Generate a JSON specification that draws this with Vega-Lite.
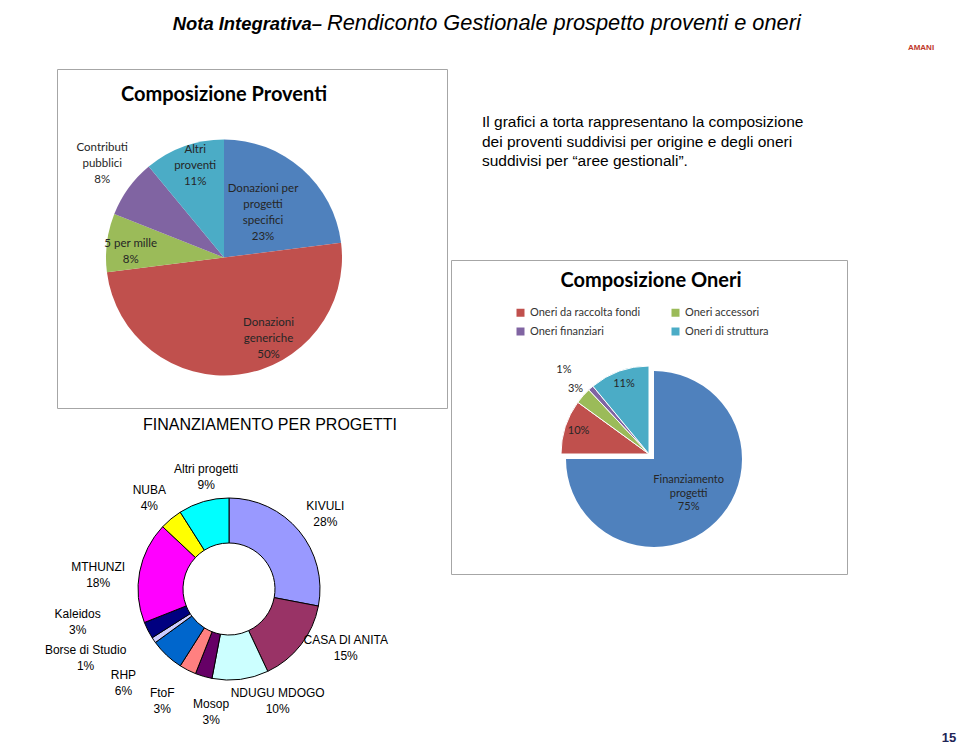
{
  "$schema": "https://vega.github.io/schema/vega-lite/v6.json",
  "padding": 0,
  "background": "white",
  "spacing": 0,
  "config": {"view": {"stroke": null}, "text": {"font": "Liberation Sans"}},
  "resolve": {"scale": {"color": "independent", "theta": "independent", "opacity": "independent"}, "legend": {"color": "independent"}},
  "vconcat": [
    {
      "width": 960,
      "height": 68,
      "view": {"fill": "#ffffff"},
      "data": {"values": [{}]},
      "layer": [
        {"mark": {"type": "text", "text": "Nota Integrativa–", "font": "Liberation Sans", "fontStyle": "italic", "fontWeight": "bold", "fontSize": 18.4, "align": "right", "baseline": "alphabetic", "dx": -158, "dy": -4, "color": "#000"}, "encoding": {}},
        {"mark": {"type": "text", "text": "Rendiconto Gestionale  prospetto  proventi e oneri", "font": "Liberation Sans", "fontStyle": "italic", "fontSize": 21.8, "align": "left", "baseline": "alphabetic", "dx": -153, "dy": -4, "color": "#000"}, "encoding": {}},
        {"mark": {"type": "text", "text": "AMANI", "font": "Liberation Sans", "fontWeight": "bold", "fontSize": 8, "align": "center", "baseline": "middle", "dx": 441, "dy": 14, "color": "#C0392B"}, "encoding": {}}
      ]
    },
    {
      "hconcat": [
        {"width": 42, "height": 24, "view": {"fill": "#ffffff"}, "data": {"values": [{}]}, "mark": {"type": "text", "text": ""}, "encoding": {}},
        {
          "vconcat": [
            {
              "width": 390,
              "height": 339,
              "view": {"stroke": "#a6a6a6", "strokeWidth": 1},
              "data": {"values": [
                {"cat": "Donazioni per progetti specifici", "lbl": "Donazioni per\nprogetti\nspecifici\n23%", "v": 23, "k": 1},
                {"cat": "Donazioni generiche", "lbl": "Donazioni\ngeneriche\n50%", "v": 50, "k": 2},
                {"cat": "5 per mille", "lbl": "5 per mille\n8%", "v": 8, "k": 3},
                {"cat": "Contributi pubblici", "lbl": "Contributi\npubblici\n8%", "v": 8, "k": 4},
                {"cat": "Altri proventi", "lbl": "Altri\nproventi\n11%", "v": 11, "k": 5}
              ]},
              "layer": [
                {
                  "mark": {"type": "arc", "outerRadius": 118, "xOffset": -28, "yOffset": 19},
                  "encoding": {
                    "theta": {"field": "v", "type": "quantitative", "stack": true},
                    "order": {"field": "k", "type": "quantitative"},
                    "color": {"field": "cat", "type": "nominal", "legend": null, "scale": {"domain": ["Donazioni per progetti specifici", "Donazioni generiche", "5 per mille", "Contributi pubblici", "Altri proventi"], "range": ["#4F81BD", "#C0504D", "#9BBB59", "#8064A2", "#4BACC6"]}}
                  }
                },
                {
                  "mark": {"type": "text", "radius": 59, "xOffset": -28, "yOffset": 19, "dy": -24, "font": "Lato", "fontSize": 11.5, "lineBreak": "\n", "lineHeight": 16, "align": "center", "baseline": "middle", "color": "#262626"},
                  "encoding": {
                    "theta": {"field": "v", "type": "quantitative", "stack": true},
                    "order": {"field": "k", "type": "quantitative"},
                    "text": {"condition": {"test": "datum.cat === 'Donazioni per progetti specifici'", "field": "lbl"}, "value": ""}
                  }
                },
                {
                  "mark": {"type": "text", "radius": 94, "xOffset": -28, "yOffset": 19, "dy": -2, "font": "Lato", "fontSize": 11.5, "lineBreak": "\n", "lineHeight": 16, "align": "center", "baseline": "middle", "color": "#262626"},
                  "encoding": {
                    "theta": {"field": "v", "type": "quantitative", "stack": true},
                    "order": {"field": "k", "type": "quantitative"},
                    "text": {"condition": {"test": "datum.cat === '5 per mille'", "field": "lbl"}, "value": ""}
                  }
                },
                {
                  "mark": {"type": "text", "radius": 94, "xOffset": -28, "yOffset": 19, "dx": 3, "dy": -19, "font": "Lato", "fontSize": 11.5, "lineBreak": "\n", "lineHeight": 16, "align": "center", "baseline": "middle", "color": "#262626"},
                  "encoding": {
                    "theta": {"field": "v", "type": "quantitative", "stack": true},
                    "order": {"field": "k", "type": "quantitative"},
                    "text": {"condition": {"test": "datum.cat === 'Altri proventi'", "field": "lbl"}, "value": ""}
                  }
                },
                {
                  "mark": {"type": "text", "radius": 92, "xOffset": -28, "yOffset": 19, "dx": 33, "dy": -26, "font": "Lato", "fontSize": 11.5, "lineBreak": "\n", "lineHeight": 16, "align": "center", "baseline": "middle", "color": "#262626"},
                  "encoding": {
                    "theta": {"field": "v", "type": "quantitative", "stack": true},
                    "order": {"field": "k", "type": "quantitative"},
                    "text": {"condition": {"test": "datum.cat === 'Donazioni generiche'", "field": "lbl"}, "value": ""}
                  }
                },
                {
                  "mark": {"type": "text", "radius": 158, "xOffset": -28, "yOffset": 19, "dx": 6, "dy": -17, "font": "Lato", "fontSize": 11.5, "lineBreak": "\n", "lineHeight": 16, "align": "center", "baseline": "middle", "color": "#262626"},
                  "encoding": {
                    "theta": {"field": "v", "type": "quantitative", "stack": true},
                    "order": {"field": "k", "type": "quantitative"},
                    "text": {"condition": {"test": "datum.cat === 'Contributi pubblici'", "field": "lbl"}, "value": ""}
                  }
                },
                {
                  "data": {"values": [{}]},
                  "mark": {"type": "text", "text": "Composizione Proventi", "font": "Lato", "fontWeight": "bold", "fontSize": 20, "align": "center", "baseline": "middle", "dx": -28, "dy": -144, "color": "#000"},
                  "encoding": {}
                }
              ]
            },
            {
              "width": 344,
              "height": 296,
              "data": {"values": [
                {"p": "KIVULI", "lbl": "KIVULI\n28%", "v": 28, "k": 1},
                {"p": "CASA DI ANITA", "lbl": "CASA DI ANITA\n15%", "v": 15, "k": 2},
                {"p": "NDUGU MDOGO", "lbl": "NDUGU MDOGO\n10%", "v": 10, "k": 3},
                {"p": "Mosop", "lbl": "Mosop\n3%", "v": 3, "k": 4},
                {"p": "FtoF", "lbl": "FtoF\n3%", "v": 3, "k": 5},
                {"p": "RHP", "lbl": "RHP\n6%", "v": 6, "k": 6},
                {"p": "Borse di Studio", "lbl": "Borse di Studio\n1%", "v": 1, "k": 7},
                {"p": "Kaleidos", "lbl": "Kaleidos\n3%", "v": 3, "k": 8},
                {"p": "MTHUNZI", "lbl": "MTHUNZI\n18%", "v": 18, "k": 9},
                {"p": "NUBA", "lbl": "NUBA\n4%", "v": 4, "k": 10},
                {"p": "Altri progetti", "lbl": "Altri progetti\n9%", "v": 9, "k": 11}
              ]},
              "layer": [
                {
                  "mark": {"type": "arc", "innerRadius": 46, "outerRadius": 91, "stroke": "#000", "strokeWidth": 1},
                  "encoding": {
                    "theta": {"field": "v", "type": "quantitative", "stack": true},
                    "order": {"field": "k", "type": "quantitative"},
                    "color": {"field": "p", "type": "nominal", "legend": null, "scale": {"domain": ["KIVULI", "CASA DI ANITA", "NDUGU MDOGO", "Mosop", "FtoF", "RHP", "Borse di Studio", "Kaleidos", "MTHUNZI", "NUBA", "Altri progetti"], "range": ["#9999FF", "#993366", "#CCFFFF", "#660066", "#FF8080", "#0066CC", "#CCCCFF", "#000080", "#FF00FF", "#FFFF00", "#00FFFF"]}}
                  }
                },
                {
                  "mark": {"type": "text", "radius": 125, "dy": -3, "font": "Liberation Sans", "fontSize": 12, "lineBreak": "\n", "lineHeight": 16, "align": "center", "baseline": "middle", "color": "#000"},
                  "encoding": {
                    "theta": {"field": "v", "type": "quantitative", "stack": true},
                    "order": {"field": "k", "type": "quantitative"},
                    "text": {"condition": {"test": "datum.p === 'NUBA' || datum.p === 'KIVULI'", "field": "lbl"}, "value": ""}
                  }
                },
                {
                  "mark": {"type": "text", "radius": 125, "dx": -8, "dy": 1, "font": "Liberation Sans", "fontSize": 12, "lineBreak": "\n", "lineHeight": 16, "align": "center", "baseline": "middle", "color": "#000"},
                  "encoding": {
                    "theta": {"field": "v", "type": "quantitative", "stack": true},
                    "order": {"field": "k", "type": "quantitative"},
                    "text": {"condition": {"test": "datum.p === 'MTHUNZI'", "field": "lbl"}, "value": ""}
                  }
                },
                {
                  "mark": {"type": "text", "radius": 125, "dx": -10, "dy": -7, "font": "Liberation Sans", "fontSize": 12, "lineBreak": "\n", "lineHeight": 16, "align": "center", "baseline": "middle", "color": "#000"},
                  "encoding": {
                    "theta": {"field": "v", "type": "quantitative", "stack": true},
                    "order": {"field": "k", "type": "quantitative"},
                    "text": {"condition": {"test": "datum.p === 'FtoF'", "field": "lbl"}, "value": ""}
                  }
                },
                {
                  "mark": {"type": "text", "radius": 125, "dx": 12, "dy": 0, "font": "Liberation Sans", "fontSize": 12, "lineBreak": "\n", "lineHeight": 16, "align": "center", "baseline": "middle", "color": "#000"},
                  "encoding": {
                    "theta": {"field": "v", "type": "quantitative", "stack": true},
                    "order": {"field": "k", "type": "quantitative"},
                    "text": {"condition": {"test": "datum.p === 'Altri progetti'", "field": "lbl"}, "value": ""}
                  }
                },
                {
                  "mark": {"type": "text", "radius": 125, "dx": 18, "dy": -26, "font": "Liberation Sans", "fontSize": 12, "lineBreak": "\n", "lineHeight": 16, "align": "center", "baseline": "middle", "color": "#000"},
                  "encoding": {
                    "theta": {"field": "v", "type": "quantitative", "stack": true},
                    "order": {"field": "k", "type": "quantitative"},
                    "text": {"condition": {"test": "datum.p === 'CASA DI ANITA'", "field": "lbl"}, "value": ""}
                  }
                },
                {
                  "mark": {"type": "text", "radius": 125, "dx": 33, "dy": -20, "font": "Liberation Sans", "fontSize": 12, "lineBreak": "\n", "lineHeight": 16, "align": "center", "baseline": "middle", "color": "#000"},
                  "encoding": {
                    "theta": {"field": "v", "type": "quantitative", "stack": true},
                    "order": {"field": "k", "type": "quantitative"},
                    "text": {"condition": {"test": "datum.p === 'NDUGU MDOGO'", "field": "lbl"}, "value": ""}
                  }
                },
                {
                  "mark": {"type": "text", "radius": 125, "dx": 17, "dy": -5, "font": "Liberation Sans", "fontSize": 12, "lineBreak": "\n", "lineHeight": 16, "align": "center", "baseline": "middle", "color": "#000"},
                  "encoding": {
                    "theta": {"field": "v", "type": "quantitative", "stack": true},
                    "order": {"field": "k", "type": "quantitative"},
                    "text": {"condition": {"test": "datum.p === 'Mosop'", "field": "lbl"}, "value": ""}
                  }
                },
                {
                  "mark": {"type": "text", "radius": 125, "dx": -20, "dy": -5, "font": "Liberation Sans", "fontSize": 12, "lineBreak": "\n", "lineHeight": 16, "align": "center", "baseline": "middle", "color": "#000"},
                  "encoding": {
                    "theta": {"field": "v", "type": "quantitative", "stack": true},
                    "order": {"field": "k", "type": "quantitative"},
                    "text": {"condition": {"test": "datum.p === 'RHP'", "field": "lbl"}, "value": ""}
                  }
                },
                {
                  "mark": {"type": "text", "radius": 125, "dx": -40, "dy": -9, "font": "Liberation Sans", "fontSize": 12, "lineBreak": "\n", "lineHeight": 16, "align": "center", "baseline": "middle", "color": "#000"},
                  "encoding": {
                    "theta": {"field": "v", "type": "quantitative", "stack": true},
                    "order": {"field": "k", "type": "quantitative"},
                    "text": {"condition": {"test": "datum.p === 'Borse di Studio'", "field": "lbl"}, "value": ""}
                  }
                },
                {
                  "mark": {"type": "text", "radius": 125, "dx": -40, "dy": -32, "font": "Liberation Sans", "fontSize": 12, "lineBreak": "\n", "lineHeight": 16, "align": "center", "baseline": "middle", "color": "#000"},
                  "encoding": {
                    "theta": {"field": "v", "type": "quantitative", "stack": true},
                    "order": {"field": "k", "type": "quantitative"},
                    "text": {"condition": {"test": "datum.p === 'Kaleidos'", "field": "lbl"}, "value": ""}
                  }
                },
                {
                  "data": {"values": [{}]},
                  "mark": {"type": "text", "text": "FINANZIAMENTO PER PROGETTI", "font": "Liberation Sans", "fontSize": 16, "align": "center", "baseline": "middle", "dx": 41, "dy": -164, "color": "#000"},
                  "encoding": {}
                }
              ]
            }
          ],
          "spacing": 33,
          "bounds": "flush",
          "resolve": {"scale": {"color": "independent", "theta": "independent", "opacity": "independent"}, "legend": {"color": "independent"}}
        },
        {
          "vconcat": [
            {
              "width": 396,
              "height": 191,
              "view": {"fill": "#ffffff"},
              "data": {"values": [{}]},
              "mark": {"type": "text", "text": "Il grafici a torta rappresentano la composizione\ndei proventi suddivisi per origine e degli oneri\nsuddivisi per “aree gestionali”.", "lineBreak": "\n", "lineHeight": 19.5, "font": "Liberation Sans", "fontSize": 15.5, "align": "left", "baseline": "middle", "dx": -167, "dy": -42.5, "color": "#000"},
              "encoding": {}
            },
            {
              "width": 396,
              "height": 314,
              "view": {"stroke": "#a6a6a6", "strokeWidth": 1},
              "data": {"values": [
                {"c": "Finanziamento progetti", "lbl": "Finanziamento\nprogetti\n75%", "v": 75, "k": 1},
                {"c": "Oneri da raccolta fondi", "lbl": "10%", "v": 10, "k": 2},
                {"c": "Oneri accessori", "lbl": "3%", "v": 3, "k": 3},
                {"c": "Oneri finanziari", "lbl": "1%", "v": 1, "k": 4},
                {"c": "Oneri di struttura", "lbl": "11%", "v": 11, "k": 5}
              ]},
              "layer": [
                {
                  "mark": {"type": "arc", "outerRadius": 88, "xOffset": 5, "yOffset": 42},
                  "encoding": {
                    "theta": {"field": "v", "type": "quantitative", "stack": true},
                    "order": {"field": "k", "type": "quantitative"},
                    "color": {"field": "c", "type": "nominal", "scale": {"domain": ["Finanziamento progetti", "Oneri da raccolta fondi", "Oneri accessori", "Oneri finanziari", "Oneri di struttura"], "range": ["#4F81BD", "#C0504D", "#9BBB59", "#8064A2", "#4BACC6"]},
                      "legend": {"values": ["Oneri da raccolta fondi", "Oneri accessori", "Oneri finanziari", "Oneri di struttura"], "orient": "none", "legendX": 64, "legendY": 47, "direction": "horizontal", "columns": 2, "title": null, "symbolType": "square", "symbolSize": 64, "symbolStrokeWidth": 0, "symbolOpacity": 1, "labelFont": "Lato", "labelFontSize": 11, "labelColor": "#333", "columnPadding": 29, "rowPadding": 7}},
                    "opacity": {"condition": {"test": "datum.c === 'Finanziamento progetti'", "value": 1}, "value": 0}
                  }
                },
                {
                  "mark": {"type": "arc", "outerRadius": 88, "xOffset": 0, "yOffset": 37, "stroke": "#ffffff", "strokeWidth": 1},
                  "encoding": {
                    "theta": {"field": "v", "type": "quantitative", "stack": true},
                    "order": {"field": "k", "type": "quantitative"},
                    "color": {"field": "c", "type": "nominal", "scale": {"domain": ["Finanziamento progetti", "Oneri da raccolta fondi", "Oneri accessori", "Oneri finanziari", "Oneri di struttura"], "range": ["#4F81BD", "#C0504D", "#9BBB59", "#8064A2", "#4BACC6"]},
                      "legend": {"values": ["Oneri da raccolta fondi", "Oneri accessori", "Oneri finanziari", "Oneri di struttura"], "orient": "none", "legendX": 64, "legendY": 47, "direction": "horizontal", "columns": 2, "title": null, "symbolType": "square", "symbolSize": 64, "symbolStrokeWidth": 0, "symbolOpacity": 1, "labelFont": "Lato", "labelFontSize": 11, "labelColor": "#333", "columnPadding": 29, "rowPadding": 7}},
                    "opacity": {"condition": {"test": "datum.c !== 'Finanziamento progetti'", "value": 1}, "value": 0}
                  }
                },
                {
                  "mark": {"type": "text", "radius": 49, "xOffset": 5, "yOffset": 42, "dy": -13.5, "font": "Lato", "fontSize": 11, "lineBreak": "\n", "lineHeight": 13.5, "align": "center", "baseline": "middle", "color": "#262626"},
                  "encoding": {
                    "theta": {"field": "v", "type": "quantitative", "stack": true},
                    "order": {"field": "k", "type": "quantitative"},
                    "text": {"condition": {"test": "datum.c === 'Finanziamento progetti'", "field": "lbl"}, "value": ""}
                  }
                },
                {
                  "mark": {"type": "text", "radius": 74, "xOffset": 0, "yOffset": 37, "font": "Lato", "fontSize": 11, "align": "center", "baseline": "middle", "color": "#262626"},
                  "encoding": {
                    "theta": {"field": "v", "type": "quantitative", "stack": true},
                    "order": {"field": "k", "type": "quantitative"},
                    "text": {"condition": {"test": "datum.c === 'Oneri da raccolta fondi' || datum.c === 'Oneri di struttura'", "field": "lbl"}, "value": ""}
                  }
                },
                {
                  "mark": {"type": "text", "radius": 98, "xOffset": 0, "yOffset": 37, "font": "Lato", "fontSize": 11, "align": "center", "baseline": "middle", "color": "#262626"},
                  "encoding": {
                    "theta": {"field": "v", "type": "quantitative", "stack": true},
                    "order": {"field": "k", "type": "quantitative"},
                    "text": {"condition": {"test": "datum.c === 'Oneri accessori'", "field": "lbl"}, "value": ""}
                  }
                },
                {
                  "mark": {"type": "text", "radius": 118, "xOffset": 0, "yOffset": 37, "dx": -7, "dy": 5, "font": "Lato", "fontSize": 11, "align": "center", "baseline": "middle", "color": "#262626"},
                  "encoding": {
                    "theta": {"field": "v", "type": "quantitative", "stack": true},
                    "order": {"field": "k", "type": "quantitative"},
                    "text": {"condition": {"test": "datum.c === 'Oneri finanziari'", "field": "lbl"}, "value": ""}
                  }
                },
                {
                  "data": {"values": [{}]},
                  "mark": {"type": "text", "text": "Composizione Oneri", "font": "Lato", "fontWeight": "bold", "fontSize": 20, "align": "center", "baseline": "middle", "dx": 2, "dy": -136, "color": "#000"},
                  "encoding": {}
                }
              ]
            },
            {
              "width": 396,
              "height": 174,
              "data": {"values": [{}]},
              "mark": {"type": "text", "text": "15", "font": "Liberation Sans", "fontWeight": "bold", "fontSize": 13, "align": "center", "baseline": "middle", "dx": 300, "dy": 77, "color": "#1F2557"},
              "encoding": {}
            }
          ],
          "spacing": 0,
          "bounds": "flush",
          "resolve": {"scale": {"color": "independent", "theta": "independent", "opacity": "independent"}, "legend": {"color": "independent"}}
        }
      ],
      "spacing": 2,
      "resolve": {"scale": {"color": "independent", "theta": "independent", "opacity": "independent"}, "legend": {"color": "independent"}}
    }
  ]
}
